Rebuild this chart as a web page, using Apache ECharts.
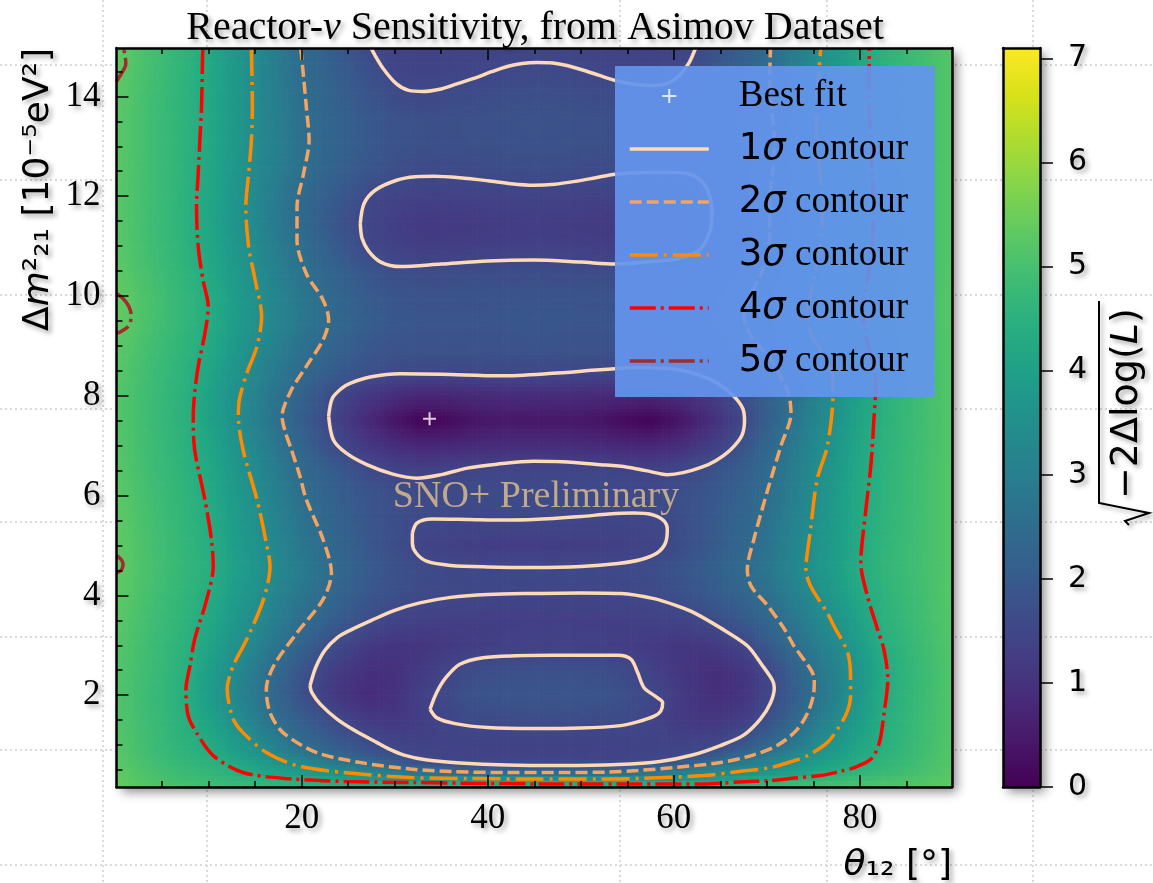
<!DOCTYPE html>
<html>
<head>
<meta charset="utf-8">
<title>Reactor-ν Sensitivity, from Asimov Dataset</title>
<script src="https://cdn.jsdelivr.net/npm/echarts@6.0.0/dist/echarts.min.js"></script>
<style>
  html, body { margin: 0; padding: 0; background: #fff; }
  #chart { width: 1153px; height: 883px; }
</style>
</head>
<body>
<div id="chart"></div>
<script>
// grid nodes of the likelihood scan
const thetaNodes = [0, 2.5, 5, 7.5, 10, 12.5, 15, 17.5, 20, 22.5, 25, 27.5, 30, 32.5, 35, 37.5, 40, 42.5, 45,
  47.5, 50, 52.5, 55, 57.5, 60, 62.5, 65, 67.5, 70, 72.5, 75, 77.5, 80, 82.5, 85, 87.5, 90];
const dmNodes = [0.25, 0.35, 0.45, 0.55, 0.7, 0.85, 1.0, 1.5, 2.0, 2.5, 3.0, 3.5, 4.0, 4.5, 5.0, 5.5, 6.0, 6.5,
  7.0, 7.5, 8.0, 8.5, 9.0, 9.5, 10.0, 10.5, 11.0, 11.5, 12.0, 12.5, 13.0, 13.5, 14.0, 14.5, 15.0];

// sqrt(-2 dlogL), one row per dm node
const z025 = [5.42,5.22,5.06,4.94,4.85,4.76,4.68,4.6,4.5,4.45,4.42,4.4,4.38,4.36,4.35,4.34,4.34,4.34,4.34,4.35,4.36,4.37,4.38,4.39,4.4,4.42,4.5,4.6,4.7,4.8,4.88,4.95,5.0,5.06,5.12,5.2,5.32];
const z035 = [5.38,5.17,5.0,4.86,4.75,4.62,4.5,4.4,4.2,4.02,3.84,3.66,3.5,3.42,3.38,3.36,3.35,3.35,3.35,3.36,3.37,3.38,3.4,3.44,3.52,3.65,3.8,4.0,4.2,4.43,4.6,4.72,4.83,4.93,5.03,5.14,5.28];
const z045 = [5.35,5.13,4.95,4.8,4.68,4.52,4.28,4.06,3.84,3.62,3.4,3.18,2.95,2.75,2.6,2.53,2.5,2.48,2.48,2.49,2.52,2.58,2.68,2.82,2.98,3.14,3.32,3.55,3.78,4.02,4.26,4.48,4.64,4.78,4.92,5.07,5.25];
const z055 = [5.32,5.1,4.9,4.73,4.6,4.44,4.14,3.85,3.55,3.28,3.03,2.79,2.54,2.3,2.1,1.97,1.9,1.87,1.86,1.87,1.9,1.97,2.1,2.3,2.55,2.75,2.97,3.18,3.4,3.69,3.98,4.27,4.5,4.68,4.85,5.03,5.22];
const z070 = [5.28,5.05,4.85,4.65,4.52,4.23,3.88,3.52,3.18,2.84,2.5,2.2,1.89,1.58,1.47,1.44,1.43,1.43,1.43,1.43,1.43,1.44,1.45,1.48,1.6,1.98,2.35,2.71,3.05,3.38,3.72,4.05,4.38,4.6,4.8,5.0,5.2];
const z085 = [5.24,5.0,4.78,4.58,4.42,4.03,3.65,3.19,2.77,2.4,2.13,1.87,1.6,1.46,1.42,1.41,1.4,1.4,1.4,1.4,1.41,1.42,1.43,1.45,1.48,1.53,1.9,2.3,2.71,3.1,3.5,3.85,4.22,4.5,4.73,4.97,5.2];
const z100 = [5.22,4.98,4.76,4.54,4.35,3.92,3.49,3.0,2.52,2.21,1.92,1.62,1.45,1.4,1.38,1.37,1.36,1.36,1.36,1.36,1.36,1.37,1.38,1.4,1.42,1.46,1.52,1.9,2.3,2.74,3.3,3.72,4.15,4.47,4.7,4.95,5.18];
const z150 = [5.18,4.95,4.71,4.48,4.08,3.58,3.02,2.47,2.1,1.73,1.4,1.2,1.15,1.25,1.42,1.56,1.6,1.62,1.63,1.63,1.62,1.6,1.57,1.45,1.25,1.12,1.15,1.3,1.69,2.23,2.78,3.35,3.88,4.4,4.65,4.92,5.15];
const z200 = [5.15,4.92,4.68,4.42,3.88,3.34,2.78,2.25,1.74,1.3,1.0,0.88,1.0,1.3,1.52,1.72,1.82,1.86,1.88,1.88,1.86,1.8,1.7,1.56,1.3,1.05,0.9,1.05,1.45,1.97,2.53,3.1,3.75,4.35,4.62,4.9,5.15];
const z250 = [5.18,4.95,4.72,4.47,3.96,3.44,2.9,2.36,1.84,1.4,1.12,0.96,0.98,1.15,1.38,1.58,1.66,1.7,1.72,1.72,1.7,1.66,1.57,1.38,1.15,1.0,0.95,1.1,1.5,2.05,2.6,3.14,3.7,4.3,4.6,4.88,5.15];
const z300 = [5.22,4.98,4.75,4.52,4.13,3.65,3.17,2.68,2.22,1.76,1.42,1.18,1.08,1.08,1.15,1.24,1.3,1.34,1.36,1.36,1.35,1.33,1.28,1.2,1.12,1.12,1.22,1.46,1.93,2.42,2.88,3.35,3.89,4.42,4.67,4.93,5.18];
const z350 = [5.28,5.03,4.8,4.58,4.25,3.8,3.38,2.95,2.54,2.21,1.9,1.59,1.44,1.36,1.32,1.31,1.31,1.31,1.31,1.31,1.31,1.31,1.32,1.35,1.4,1.48,1.7,1.98,2.33,2.7,3.14,3.57,4.07,4.5,4.74,4.98,5.2];
const z400 = [5.33,5.08,4.85,4.62,4.38,3.95,3.55,3.12,2.77,2.42,2.12,1.88,1.7,1.6,1.54,1.51,1.49,1.48,1.48,1.48,1.48,1.49,1.51,1.56,1.66,1.85,2.05,2.27,2.57,2.97,3.36,3.82,4.27,4.55,4.78,4.99,5.2];
const z450 = [5.38,5.13,4.9,4.68,4.45,4.05,3.68,3.3,2.92,2.58,2.28,2.0,1.78,1.64,1.57,1.55,1.54,1.54,1.54,1.55,1.56,1.58,1.6,1.66,1.78,1.98,2.2,2.45,2.78,3.17,3.56,3.96,4.38,4.62,4.83,5.02,5.2];
const z500 = [5.36,5.1,4.88,4.65,4.42,4.0,3.6,3.18,2.8,2.45,2.15,1.88,1.66,1.48,1.36,1.3,1.27,1.26,1.26,1.27,1.28,1.3,1.34,1.42,1.56,1.8,2.06,2.33,2.68,3.1,3.52,3.9,4.33,4.6,4.82,5.01,5.2];
const z550 = [5.33,5.08,4.85,4.62,4.38,3.94,3.54,3.1,2.7,2.36,2.08,1.86,1.7,1.58,1.52,1.5,1.5,1.5,1.5,1.5,1.49,1.48,1.48,1.52,1.62,1.82,2.04,2.3,2.62,3.05,3.46,3.86,4.3,4.58,4.8,5.0,5.2];
const z600 = [5.3,5.05,4.82,4.6,4.32,3.88,3.47,3.0,2.57,2.27,2.02,1.83,1.7,1.64,1.62,1.62,1.63,1.64,1.64,1.63,1.62,1.61,1.6,1.61,1.67,1.8,1.98,2.22,2.53,2.92,3.4,3.83,4.28,4.57,4.79,5.0,5.2];
const z650 = [5.25,5.0,4.77,4.55,4.25,3.8,3.35,2.87,2.43,2.16,1.84,1.58,1.45,1.38,1.4,1.44,1.47,1.47,1.46,1.46,1.47,1.46,1.43,1.42,1.48,1.62,1.85,2.12,2.45,2.88,3.33,3.78,4.24,4.55,4.78,4.99,5.2];
const z700 = [5.22,4.98,4.74,4.52,4.17,3.7,3.22,2.74,2.26,1.78,1.4,1.12,0.9,0.78,0.78,0.82,0.87,0.9,0.9,0.9,0.88,0.84,0.79,0.77,0.88,1.1,1.4,1.81,2.3,2.77,3.24,3.7,4.18,4.52,4.75,4.97,5.2];
const z750 = [5.2,4.96,4.72,4.5,4.08,3.58,3.08,2.58,2.08,1.6,1.15,0.75,0.4,0.08,0.12,0.3,0.42,0.45,0.42,0.43,0.42,0.32,0.15,0.05,0.3,0.65,1.05,1.5,2.09,2.65,3.13,3.62,4.12,4.5,4.74,4.97,5.2];
const z800 = [5.2,4.96,4.73,4.5,4.07,3.59,3.11,2.63,2.18,1.75,1.35,1.1,0.9,0.76,0.76,0.8,0.85,0.88,0.89,0.88,0.86,0.82,0.78,0.76,0.85,1.05,1.35,1.72,2.12,2.5,3.02,3.52,4.05,4.47,4.73,4.97,5.2];
const z850 = [5.25,5.0,4.77,4.54,4.16,3.71,3.26,2.85,2.44,2.15,1.9,1.72,1.6,1.55,1.54,1.55,1.56,1.56,1.56,1.55,1.54,1.53,1.52,1.52,1.55,1.63,1.8,2.03,2.35,2.78,3.2,3.62,4.1,4.47,4.72,4.96,5.2];
const z900 = [5.3,5.06,4.82,4.59,4.3,3.86,3.41,3.0,2.64,2.34,2.1,1.93,1.83,1.79,1.78,1.78,1.79,1.8,1.81,1.8,1.79,1.78,1.77,1.78,1.84,1.96,2.14,2.36,2.67,3.03,3.4,3.82,4.25,4.53,4.76,4.98,5.2];
const z950 = [5.4,5.15,4.9,4.65,4.39,3.97,3.56,3.18,2.83,2.52,2.26,2.06,1.94,1.88,1.86,1.87,1.88,1.89,1.9,1.89,1.88,1.87,1.86,1.88,1.95,2.08,2.28,2.52,2.85,3.2,3.58,3.98,4.38,4.62,4.83,5.02,5.22];
const z1000 = [5.4,5.15,4.9,4.65,4.38,3.95,3.54,3.15,2.8,2.47,2.2,2.0,1.86,1.8,1.79,1.8,1.81,1.82,1.83,1.82,1.81,1.8,1.78,1.79,1.86,2.0,2.2,2.45,2.8,3.15,3.55,3.95,4.35,4.6,4.82,5.02,5.22];
const z1050 = [5.32,5.07,4.83,4.6,4.3,3.86,3.44,3.04,2.66,2.33,2.06,1.82,1.66,1.6,1.6,1.61,1.62,1.63,1.64,1.63,1.62,1.6,1.58,1.58,1.63,1.8,2.0,2.25,2.62,3.02,3.44,3.84,4.26,4.55,4.78,4.99,5.2];
const z1100 = [5.28,5.03,4.78,4.55,4.22,3.78,3.36,2.93,2.52,2.16,1.83,1.5,1.36,1.27,1.26,1.28,1.31,1.33,1.34,1.33,1.31,1.28,1.25,1.24,1.29,1.43,1.74,2.1,2.49,2.9,3.39,3.8,4.22,4.53,4.76,4.98,5.2];
const z1150 = [5.26,5.01,4.77,4.53,4.18,3.72,3.29,2.83,2.4,2.02,1.7,1.45,1.3,1.2,1.19,1.21,1.24,1.26,1.27,1.26,1.24,1.21,1.18,1.17,1.23,1.38,1.65,2.05,2.46,2.87,3.36,3.78,4.22,4.53,4.76,4.98,5.2];
const z1200 = [5.26,5.02,4.78,4.54,4.2,3.74,3.3,2.86,2.43,2.12,1.83,1.52,1.42,1.36,1.35,1.37,1.39,1.4,1.41,1.4,1.39,1.37,1.35,1.34,1.38,1.48,1.76,2.1,2.45,2.85,3.35,3.78,4.22,4.53,4.76,4.98,5.2];
const z1250 = [5.27,5.02,4.78,4.55,4.22,3.78,3.33,2.97,2.57,2.28,2.05,1.85,1.68,1.6,1.58,1.6,1.62,1.63,1.64,1.63,1.61,1.59,1.57,1.57,1.6,1.72,1.9,2.13,2.4,2.83,3.35,3.78,4.22,4.53,4.76,4.98,5.2];
const z1300 = [5.28,5.03,4.78,4.55,4.25,3.82,3.38,3.02,2.62,2.33,2.12,1.95,1.8,1.72,1.7,1.71,1.73,1.75,1.76,1.75,1.73,1.71,1.69,1.69,1.74,1.88,2.04,2.22,2.42,2.83,3.35,3.78,4.22,4.53,4.76,4.98,5.2];
const z1350 = [5.28,5.03,4.78,4.55,4.25,3.82,3.38,3.0,2.58,2.32,2.12,1.95,1.8,1.72,1.7,1.72,1.74,1.76,1.77,1.76,1.74,1.72,1.7,1.7,1.76,1.9,2.06,2.24,2.45,2.83,3.35,3.78,4.22,4.53,4.76,4.98,5.2];
const z1400 = [5.3,5.05,4.8,4.55,4.25,3.82,3.37,2.95,2.53,2.29,2.05,1.82,1.62,1.56,1.58,1.62,1.66,1.68,1.7,1.69,1.66,1.62,1.58,1.57,1.62,1.8,2.0,2.2,2.44,2.86,3.33,3.76,4.22,4.53,4.76,4.98,5.2];
const z1450 = [5.35,5.08,4.83,4.58,4.27,3.82,3.37,2.92,2.49,2.23,1.97,1.72,1.48,1.42,1.43,1.47,1.51,1.56,1.58,1.57,1.54,1.49,1.46,1.45,1.5,1.68,1.94,2.2,2.46,2.88,3.33,3.76,4.22,4.53,4.76,4.98,5.2];
const z1500 = [5.4,5.1,4.85,4.6,4.28,3.82,3.37,2.93,2.47,2.15,1.83,1.51,1.42,1.36,1.36,1.38,1.4,1.42,1.43,1.42,1.4,1.38,1.36,1.36,1.42,1.52,1.84,2.14,2.44,2.86,3.3,3.75,4.2,4.53,4.76,4.98,5.2];
const fieldRows = [z025, z035, z045, z055, z070, z085, z100, z150, z200, z250, z300, z350, z400, z450, z500, z550,
  z600, z650, z700, z750, z800, z850, z900, z950, z1000, z1050, z1100, z1150, z1200, z1250, z1300, z1350, z1400, z1450, z1500];

// contour paths [theta, dm]
const c1Top = [[27.4,15.0],[27.8,14.85],[28.8,14.55],[30.2,14.25],[31.5,14.12],[33,14.1],[35,14.15],[36.7,14.25],[38.5,14.36],[40.5,14.5],[42.1,14.6],[43.7,14.66],[45.3,14.68],[47,14.67],[48.5,14.62],[50.2,14.53],[52,14.42],[53.7,14.32],[55.5,14.25],[57.5,14.22],[59.3,14.26],[60.6,14.42],[61.6,14.66],[62.4,15.0]];
const c1Upper = [[26.3,11.45],[26.7,11.85],[27.9,12.12],[30.2,12.32],[32.2,12.39],[34.2,12.4],[37,12.37],[40,12.31],[42.5,12.25],[44.9,12.22],[47.2,12.24],[49.5,12.3],[51.6,12.37],[53.7,12.44],[56,12.47],[58.8,12.48],[61.5,12.45],[63.1,12.28],[63.9,11.98],[64.1,11.6],[63.7,11.2],[62.6,10.9],[60.2,10.74],[57,10.68],[53.7,10.64],[50,10.68],[44.9,10.72],[40,10.7],[35,10.64],[30.6,10.59],[28.5,10.68],[27.2,10.9],[26.5,11.15],[26.3,11.45]];
const c1Best = [[22.9,7.59],[23.3,7.95],[24.3,8.15],[25.2,8.25],[27.5,8.38],[30.6,8.44],[35,8.43],[41.4,8.4],[47,8.45],[52.1,8.52],[56,8.56],[59.3,8.55],[62.5,8.43],[64.7,8.25],[66.4,8.0],[67.4,7.75],[67.6,7.5],[67.3,7.2],[66.1,6.92],[64.5,6.7],[63,6.57],[61,6.46],[59.3,6.42],[57,6.5],[55,6.57],[52.1,6.62],[48,6.68],[44.9,6.69],[41,6.63],[37.8,6.55],[35,6.42],[32.4,6.35],[29.8,6.43],[27,6.62],[24.8,6.85],[23.4,7.12],[22.9,7.59]];
const c1Mid = [[31.9,5.25],[32.4,5.45],[34,5.53],[38,5.52],[41.5,5.51],[44.9,5.52],[50,5.58],[53,5.63],[55.7,5.65],[57.6,5.62],[58.9,5.5],[59.3,5.32],[59.1,5.05],[58.2,4.85],[56.5,4.72],[54,4.64],[50,4.58],[45,4.56],[40,4.57],[36,4.6],[33.5,4.68],[32.3,4.85],[31.9,5.05],[31.9,5.25]];
const c1Ring = [[20.9,2.19],[21.5,2.55],[22.5,2.9],[23.8,3.15],[25.2,3.3],[27.5,3.5],[30,3.7],[32.7,3.85],[36,3.96],[40,4.02],[45,4.04],[50,4.05],[54.3,4.04],[58,3.93],[60.5,3.78],[62.2,3.65],[65,3.35],[67.9,2.99],[69.5,2.6],[70.6,2.3],[70.8,2.15],[70.4,1.85],[69.3,1.52],[67.5,1.2],[65.0,0.99],[62,0.8],[58.5,0.67],[54,0.61],[48,0.59],[42,0.6],[37,0.64],[33.5,0.7],[31,0.8],[29.3,0.93],[28.1,1.05],[25.8,1.28],[23.8,1.52],[22,1.82],[21.1,2.05],[20.9,2.19]];
const c1Hole = [[33.8,1.72],[34.5,2.05],[35.5,2.35],[37,2.62],[39.5,2.75],[43,2.79],[47,2.8],[51,2.8],[54,2.8],[55.4,2.72],[56.1,2.46],[56.8,2.15],[58.0,1.98],[58.8,1.85],[58.6,1.68],[57.9,1.58],[56,1.46],[54.3,1.39],[50,1.34],[45,1.33],[40,1.35],[36.5,1.43],[34.5,1.55],[33.8,1.72]];
const c2Line = [[19.9,14.97],[20.2,14.4],[20.5,13.79],[20.8,13.12],[20.2,12.45],[19.5,11.79],[19.5,11.12],[20.5,10.45],[22.3,9.92],[22.9,9.52],[22.3,9.12],[20.5,8.59],[18.9,8.12],[17.9,7.59],[18.2,7.3],[18.9,6.92],[19.8,6.4],[20.5,5.92],[22.3,5.12],[23.2,4.45],[22.3,3.92],[19.5,3.25],[17.0,2.59],[16.2,2.12],[16.6,1.65],[18.0,1.25],[21.6,0.85],[26.3,0.65],[31.7,0.52],[36,0.47],[42,0.45],[48,0.45],[53,0.46],[56.1,0.49],[60,0.55],[65.0,0.65],[68.5,0.8],[71.1,0.99],[73.2,1.3],[74.4,1.65],[75.0,2.0],[75.1,2.32],[74.7,2.52],[72.9,2.99],[71.9,3.32],[70.1,3.79],[68.3,4.19],[67.9,4.52],[68.6,5.12],[70.1,6.12],[71.5,6.99],[72.6,7.65],[72.4,8.0],[72.0,8.19],[70.5,8.7],[68.3,9.2],[67.5,9.6],[68.2,10.0],[69.5,10.5],[70.3,11.2],[70.3,11.9],[70.7,12.6],[70.8,13.1],[70.5,13.8],[70.3,14.3],[70.4,14.97]];
const c3Line = [[14.6,14.97],[14.7,13.79],[14.6,13.12],[14.3,12.45],[14.0,11.79],[14.3,10.99],[15.0,10.32],[15.7,9.59],[15.2,8.99],[14.1,8.45],[13.3,7.92],[13.2,7.59],[13.7,6.92],[15.2,5.92],[16.2,5.05],[16.6,4.59],[15.9,3.92],[14.1,3.12],[12.65,2.59],[12.0,2.12],[12.65,1.52],[13.7,1.25],[16.2,0.85],[19.5,0.59],[24.5,0.45],[31.7,0.35],[38,0.33],[45,0.32],[52,0.32],[56.1,0.33],[63.2,0.39],[67,0.47],[70.4,0.55],[72.8,0.68],[74.4,0.79],[76.5,1.05],[77.6,1.32],[78.6,1.65],[79.0,2.0],[79.0,2.32],[78.7,2.85],[77.2,3.39],[76.5,3.65],[74.7,4.19],[74.2,4.52],[74.7,5.32],[75.4,6.32],[76.5,6.99],[77.1,8.0],[77.1,8.32],[76.2,8.8],[74.8,9.2],[74.4,9.6],[75.0,10.32],[75.7,11.0],[76.0,11.8],[75.7,12.45],[75.4,13.12],[75.3,13.8],[75.5,14.3],[75.8,14.97]];
const c4Line = [[9.4,14.97],[9.35,14.8],[9.24,13.79],[9.06,13.12],[8.88,12.45],[8.7,11.79],[8.88,10.99],[9.4,10.32],[9.96,9.79],[9.6,9.25],[8.88,8.59],[8.5,8.05],[8.35,7.59],[8.5,6.92],[9.6,5.92],[10.3,5.12],[10.5,4.59],[9.8,3.92],[8.5,3.12],[8.0,2.59],[7.56,2.12],[7.8,1.59],[8.7,1.25],[10.5,0.79],[13.7,0.45],[19.1,0.32],[25,0.27],[32,0.25],[40,0.23],[48,0.22],[56,0.22],[63.2,0.22],[67,0.26],[70.4,0.29],[73,0.34],[75.8,0.39],[78,0.48],[79.4,0.55],[81.2,0.72],[82.1,1.05],[82.6,1.65],[83.0,2.32],[82.6,2.9],[81.9,3.32],[80.8,3.99],[80.1,4.65],[80.6,5.65],[81.2,6.65],[81.5,7.52],[81.7,8.19],[81.4,8.6],[80.6,9.25],[80.3,9.8],[80.8,10.32],[81.3,11.0],[81.5,11.8],[81.3,12.45],[81.2,13.12],[81.0,13.8],[81.0,14.97]];
const c5Top = [[0.1,14.3],[0.6,14.45],[1.1,14.65],[1.0,14.85],[0.8,14.97]];
const c5Mid = [[0.1,10.05],[0.8,9.95],[1.4,9.8],[1.7,9.6],[1.4,9.4],[0.7,9.3],[0.1,9.25]];
const c5Low = [[0.1,4.8],[0.6,4.72],[0.8,4.62],[0.6,4.5],[0.1,4.45]];
const bestFit = [33.75, 7.54];

const xMajor = [20, 40, 60, 80];
const xMinor = [5, 10, 15, 25, 30, 35, 45, 50, 55, 65, 70, 75, 85];
const yMajor = [2, 4, 6, 8, 10, 12, 14];
const yMinor = [0.5, 1, 1.5, 2.5, 3, 3.5, 4.5, 5, 5.5, 6.5, 7, 7.5, 8.5, 9, 9.5, 10.5, 11, 11.5, 12.5, 13, 13.5, 14.5];
const cbarTicks = [0, 1, 2, 3, 4, 5, 6, 7];

const viridis = ['#440154','#48186a','#472d7b','#424086','#3b528b','#33638d','#2c728e','#26828e','#21918c',
  '#1fa088','#28ae80','#3fbc73','#5ec962','#84d44b','#addc30','#d8e219','#fde725'];
const VMAX = 7.1;

const chart = echarts.init(document.getElementById('chart'));

// heatmap cells, one per scan node
const heatData = [];
dmNodes.forEach(function (dm, j) {
  fieldRows[j].forEach(function (v, i) { heatData.push([thetaNodes[i], dm, v, i, j]); });
});
function edges(nodes, k) {
  const lo = k > 0 ? (nodes[k - 1] + nodes[k]) / 2 : nodes[0] - (nodes[1] - nodes[0]);
  const hi = k < nodes.length - 1 ? (nodes[k] + nodes[k + 1]) / 2 : nodes[k] + (nodes[k] - nodes[k - 1]);
  return [lo, hi];
}

// gouraud-style shading inside each cell (like pcolormesh shading='gouraud')
const stopRgb = viridis.map(function (h) {
  return [parseInt(h.slice(1, 3), 16), parseInt(h.slice(3, 5), 16), parseInt(h.slice(5, 7), 16)];
});
function cmap(v) {
  const t = Math.max(0, Math.min(1, v / VMAX)) * (stopRgb.length - 1);
  const k = Math.min(Math.floor(t), stopRgb.length - 2);
  const f = t - k, a = stopRgb[k], b = stopRgb[k + 1];
  return 'rgb(' + Math.round(a[0] + (b[0] - a[0]) * f) + ',' + Math.round(a[1] + (b[1] - a[1]) * f) + ','
    + Math.round(a[2] + (b[2] - a[2]) * f) + ')';
}
function locate(nodes, x) {
  if (x <= nodes[0]) return [0, 0];
  if (x >= nodes[nodes.length - 1]) return [nodes.length - 2, 1];
  let k = 0;
  while (nodes[k + 1] < x) k++;
  return [k, (x - nodes[k]) / (nodes[k + 1] - nodes[k])];
}
function shade(x, y) {
  const a = locate(thetaNodes, x), b = locate(dmNodes, y);
  const r0 = fieldRows[b[0]], r1 = fieldRows[b[0] + 1];
  const v0 = r0[a[0]] + (r0[a[0] + 1] - r0[a[0]]) * a[1];
  const v1 = r1[a[0]] + (r1[a[0] + 1] - r1[a[0]]) * a[1];
  return v0 + (v1 - v0) * b[1];
}

const shadow = { textShadowColor: 'rgba(0,0,0,0.35)', textShadowBlur: 5, textShadowOffsetX: 3, textShadowOffsetY: 3 };
const XMIN = 0.1, XMAX = 89.9, YMIN = 0.16, YMAX = 14.97;

function axis(extra) {
  return Object.assign({
    type: 'value', gridIndex: 0, z: 10, min: XMIN, max: XMAX,
    axisLine: { show: true, onZero: false, lineStyle: { color: '#000', width: 2.5 } },
    axisTick: { show: false }, axisLabel: { show: false }, splitLine: { show: false }
  }, extra);
}
function ticks(vals, len, inside) {
  return { show: true, inside: inside, length: len, customValues: vals, lineStyle: { color: '#000', width: 1.5 } };
}
const serifLabel = Object.assign({ show: true, fontFamily: 'Liberation Serif', fontSize: 35, color: '#000' }, shadow);

function contour(name, data, color, type) {
  return {
    type: 'line', name: name, data: data, xAxisIndex: 0, yAxisIndex: 0,
    showSymbol: false, symbol: 'none', smooth: 0.3, silent: true, z: 3,
    lineStyle: { color: color, width: 3.5, type: type }, itemStyle: { color: color, opacity: 0 }
  };
}
const C1 = '#ffdab9', C2 = '#f4a460', C3 = '#ff8c00', C4 = '#ff0000', C5 = '#a52a2a';
const D2 = [12, 5], D3 = [28, 6, 3, 6], D4 = [26, 5, 3, 5];
const lineLegend = function (name) { return { name: name, itemStyle: { opacity: 0 } }; };

const option = {
  animation: false,
  textStyle: { fontFamily: 'Liberation Serif' },
  grid: [
    { left: 116.5, top: 48, width: 835.5, height: 739, show: true, backgroundColor: '#fff', borderWidth: 0,
      shadowColor: 'rgba(0,0,0,0.45)', shadowBlur: 10, shadowOffsetX: 5, shadowOffsetY: 5 },
    { left: 1003, top: 48, width: 37, height: 739, show: true, backgroundColor: '#fff', borderWidth: 0,
      shadowColor: 'rgba(0,0,0,0.45)', shadowBlur: 10, shadowOffsetX: 5, shadowOffsetY: 5 }
  ],
  xAxis: [
    axis({ position: 'bottom', axisTick: ticks(xMajor, 12, true),
      axisLabel: Object.assign({ customValues: xMajor, margin: 14 }, serifLabel) }),
    axis({ position: 'bottom', axisLine: { show: false }, axisTick: ticks(xMinor, 6, true) }),
    axis({ position: 'top', axisTick: ticks(xMajor, 12, true) }),
    axis({ position: 'top', axisLine: { show: false }, axisTick: ticks(xMinor, 6, true) }),
    axis({ gridIndex: 1, position: 'bottom', min: 0, max: 1 }),
    axis({ gridIndex: 1, position: 'top', min: 0, max: 1 })
  ],
  yAxis: [
    axis({ position: 'left', min: YMIN, max: YMAX, axisTick: ticks(yMajor, 12, true),
      axisLabel: Object.assign({ customValues: yMajor, margin: 16 }, serifLabel) }),
    axis({ position: 'left', min: YMIN, max: YMAX, axisLine: { show: false }, axisTick: ticks(yMinor, 6, true) }),
    axis({ position: 'right', min: YMIN, max: YMAX }),
    axis({ gridIndex: 1, position: 'right', min: 0, max: VMAX, axisTick: ticks(cbarTicks, 13, false),
      axisLabel: Object.assign({ show: true, customValues: cbarTicks, margin: 28, fontFamily: 'DejaVu Sans',
        fontSize: 30, color: '#000' }, shadow) }),
    axis({ gridIndex: 1, position: 'left', min: 0, max: VMAX })
  ],
  visualMap: {
    type: 'continuous', min: 0, max: VMAX, dimension: 2, seriesIndex: 0,
    inRange: { color: viridis }, calculable: false, hoverLink: false, text: null,
    left: 1003, top: 48, itemWidth: 37, itemHeight: 739, padding: 0
  },
  legend: {
    orient: 'vertical', left: 615, top: 66, padding: [10, 0, 16, 13],
    backgroundColor: 'rgba(100,149,237,0.92)', selectedMode: false,
    itemWidth: 79, itemHeight: 14, itemGap: 13,
    lineStyle: { width: 3.5 },
    data: ['Best fit', lineLegend('1σ contour'), lineLegend('2σ contour'), lineLegend('3σ contour'),
      lineLegend('4σ contour'), lineLegend('5σ contour')],
    formatter: function (name) {
      if (name === 'Best fit') return '{b|Best fit}';
      return '{n|' + name.charAt(0) + '}{g|σ}{t| contour}';
    },
    textStyle: {
      width: 221, lineHeight: 40, fontSize: 37, color: '#000',
      rich: {
        b: { fontFamily: 'Liberation Serif', fontSize: 37, lineHeight: 40, padding: [0, 0, 0, 25] },
        n: { fontFamily: 'DejaVu Sans', fontSize: 37, lineHeight: 40, padding: [0, 0, 0, 25] },
        g: { fontFamily: 'DejaVu Sans', fontStyle: 'italic', fontSize: 37, lineHeight: 40 },
        t: { fontFamily: 'Liberation Serif', fontSize: 37, lineHeight: 40 }
      }
    }
  },
  series: [
    {
      type: 'custom', name: 'likelihood', xAxisIndex: 0, yAxisIndex: 0, clip: true, silent: true, z: 1,
      dimensions: ['theta', 'dm', 'v', 'i', 'j'], encode: { x: 0, y: 1 },
      data: heatData,
      renderItem: function (params, api) {
        const xe = edges(thetaNodes, api.value(3));
        const ye = edges(dmNodes, api.value(4));
        const a = api.coord([xe[0], ye[1]]);
        const b = api.coord([xe[1], ye[0]]);
        const nx = Math.max(1, Math.round((b[0] - a[0]) / 4));
        const ny = Math.max(1, Math.round((b[1] - a[1]) / 4));
        const children = [];
        for (let p = 0; p < nx; p++) {
          for (let q = 0; q < ny; q++) {
            const x = xe[0] + (xe[1] - xe[0]) * (p + 0.5) / nx;
            const y = ye[1] - (ye[1] - ye[0]) * (q + 0.5) / ny;
            const x0 = a[0] + (b[0] - a[0]) * p / nx, y0 = a[1] + (b[1] - a[1]) * q / ny;
            children.push({ type: 'rect',
              shape: { x: x0, y: y0, width: (b[0] - a[0]) / nx + 0.7, height: (b[1] - a[1]) / ny + 0.7 },
              style: { fill: cmap(shade(x, y)) } });
          }
        }
        return { type: 'group', children: children };
      }
    },
    contour('1σ contour', c1Top, C1, 'solid'),
    contour('1σ contour', c1Upper, C1, 'solid'),
    contour('1σ contour', c1Best, C1, 'solid'),
    contour('1σ contour', c1Mid, C1, 'solid'),
    contour('1σ contour', c1Ring, C1, 'solid'),
    contour('1σ contour', c1Hole, C1, 'solid'),
    contour('2σ contour', c2Line, C2, D2),
    contour('3σ contour', c3Line, C3, D3),
    contour('4σ contour', c4Line, C4, D4),
    contour('5σ contour', c5Top, C5, D4),
    contour('5σ contour', c5Mid, C5, D4),
    contour('5σ contour', c5Low, C5, D4),
    {
      type: 'scatter', name: 'Best fit', data: [bestFit], z: 4, silent: true,
      symbol: 'path://M5,0 L5,10 M0,5 L10,5', symbolSize: 13,
      itemStyle: { color: 'rgba(0,0,0,0)', borderColor: '#fff', borderWidth: 2 }
    }
  ],
  graphic: [
    // figure background grid (dotted)
    ...[103, 207, 620, 827, 1033].map(function (x) {
      return { type: 'line', z: -1, silent: true, shape: { x1: x, y1: 0, x2: x, y2: 883 },
        style: { stroke: '#dadada', lineWidth: 2, lineDash: [2, 3] } };
    }),
    ...[65, 180, 295, 409, 522, 637, 750, 865].map(function (y) {
      return { type: 'line', z: -1, silent: true, shape: { x1: 0, y1: y, x2: 1153, y2: y },
        style: { stroke: '#dadada', lineWidth: 2, lineDash: [2, 3] } };
    }),
    { type: 'text', x: 535, y: 28, z: 50, silent: true,
      style: Object.assign({ text: 'Reactor-{i|ν} Sensitivity, from Asimov Dataset', fontFamily: 'Liberation Serif',
        fontSize: 40, fill: '#000', textAlign: 'center', textVerticalAlign: 'middle',
        rich: { i: { fontFamily: 'Liberation Serif', fontStyle: 'italic', fontSize: 40 } } }, shadow) },
    { type: 'text', x: 39, y: 48, rotation: Math.PI / 2, z: 50, silent: true,
      style: Object.assign({ text: '{a|Δ}{i|m}{a|²₂₁ [10⁻⁵eV²]}', fontFamily: 'DejaVu Sans', fontSize: 36,
        fill: '#000', textAlign: 'right', textVerticalAlign: 'middle',
        rich: { a: { fontFamily: 'DejaVu Sans', fontSize: 36 },
          i: { fontFamily: 'DejaVu Sans', fontStyle: 'italic', fontSize: 36 } } }, shadow) },
    { type: 'text', x: 952, y: 866, z: 50, silent: true,
      style: Object.assign({ text: '{i|θ}{a|₁₂ [°]}', fontFamily: 'DejaVu Sans', fontSize: 36,
        fill: '#000', textAlign: 'right', textVerticalAlign: 'middle',
        rich: { a: { fontFamily: 'DejaVu Sans', fontSize: 36 },
          i: { fontFamily: 'DejaVu Sans', fontStyle: 'italic', fontSize: 36 } } }, shadow) },
    { type: 'text', x: 536, y: 497, z: 50, silent: true,
      style: { text: 'SNO+ Preliminary', fontFamily: 'Liberation Serif', fontSize: 38,
        fill: 'rgba(210,180,140,0.9)', textAlign: 'center', textVerticalAlign: 'middle' } },
    { type: 'group', x: 1127, y: 525, rotation: Math.PI / 2, z: 50, silent: true, children: [
      { type: 'polyline', shape: { points: [[0, 2], [4, -2], [12, 22], [22, -28], [224, -28]] },
        style: { stroke: '#000', lineWidth: 2, fill: null, shadowColor: 'rgba(0,0,0,0.3)', shadowBlur: 4,
          shadowOffsetX: 3, shadowOffsetY: 3 } },
      { type: 'text', x: 26, y: 0,
        style: Object.assign({ text: '{a|−2Δlog(}{i|L}{a|)}', fontFamily: 'DejaVu Sans', fontSize: 38,
          fill: '#000', textAlign: 'left', textVerticalAlign: 'middle',
          rich: { a: { fontFamily: 'DejaVu Sans', fontSize: 38 },
            i: { fontFamily: 'DejaVu Sans', fontStyle: 'italic', fontSize: 38 } } }, shadow) }
    ] }
  ]
};
chart.setOption(option);
</script>
</body>
</html>
